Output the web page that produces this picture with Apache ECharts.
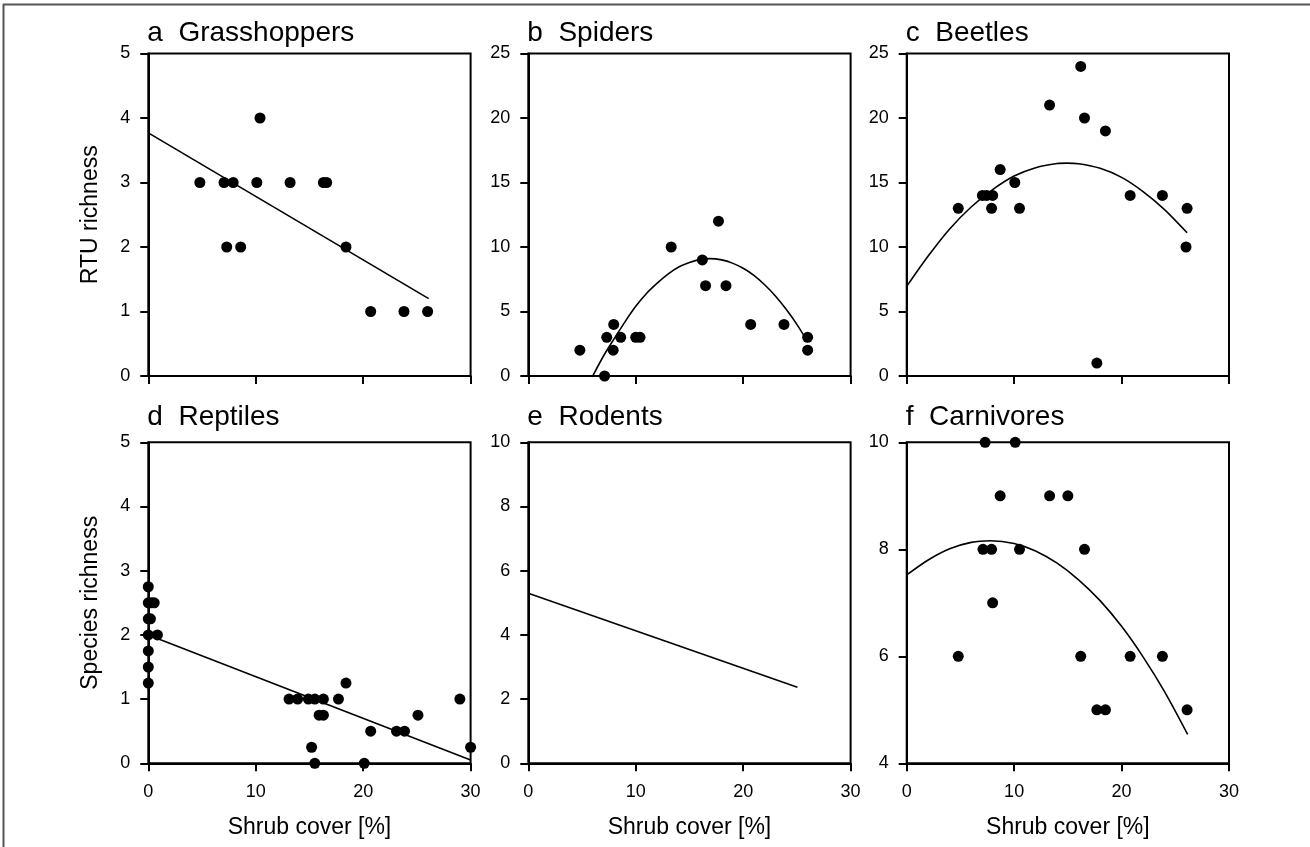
<!DOCTYPE html>
<html>
<head>
<meta charset="utf-8">
<script src="https://cdn.jsdelivr.net/npm/echarts@6/dist/echarts.min.js"></script>
<style>
  html, body { margin: 0; padding: 0; background: #fff; }
  #chart { width: 1310px; height: 847px; }
</style>
</head>
<body>
<div id="chart"></div>
<script>
// panel titles and axis names
const panelTitles = ["a  Grasshoppers", "b  Spiders", "c  Beetles", "d  Reptiles", "e  Rodents", "f  Carnivores"];
const yNames = ["RTU richness", "", "", "Species richness", "", ""];
const xName = "Shrub cover [%]";
const yMins = [0, 0, 0, 0, 0, 4];
const yMaxs = [5, 25, 25, 5, 10, 10];
const yIntervals = [1, 5, 5, 1, 2, 2];

// a Grasshoppers
const grassX = [4.8, 7.05, 7.9, 10.1, 10.4, 13.2, 16.3, 16.6, 7.3, 8.6, 18.4, 20.7, 23.8, 26.0];
const grassY = [3, 3, 3, 3, 4, 3, 3, 3, 2, 2, 2, 1, 1, 1];
const grassFitX = [0, 26.1];
const grassFitY = [3.77, 1.2];

// b Spiders
const spiderX = [4.8, 7.1, 7.3, 7.9, 7.95, 8.6, 10.0, 10.4, 13.3, 16.2, 16.5, 17.7, 18.4, 20.7, 23.8, 26.0, 26.0];
const spiderY = [2, 0, 3, 2, 4, 3, 3, 3, 10, 9, 7, 12, 7, 4, 4, 3, 2];
const spiderFitX = [6.0, 7, 8, 9, 10, 11, 12, 13, 14, 15, 16, 16.9, 18, 19, 20, 21, 22, 23, 24, 25, 26];
const spiderFitY = [0, 1.55, 2.9, 4.2, 5.4, 6.4, 7.2, 7.9, 8.45, 8.8, 9.04, 9.1, 9.0, 8.75, 8.35, 7.8, 7.07, 6.2, 5.17, 4.0, 2.64];

// c Beetles
const beetleX = [4.8, 7.05, 7.45, 8.0, 7.9, 8.7, 10.06, 10.5, 13.3, 16.2, 16.55, 17.7, 18.5, 20.8, 23.8, 26.1, 26.0];
const beetleY = [13, 14, 14, 14, 13, 16, 15, 13, 21, 24, 20, 1, 19, 14, 14, 13, 10];
const beetleFitX = [0, 2, 4, 6, 8, 10, 12, 14, 14.9, 16, 18, 20, 22, 24, 26.1];
const beetleFitY = [6.95, 9.3, 11.4, 13.1, 14.45, 15.5, 16.15, 16.47, 16.5, 16.45, 16.1, 15.4, 14.3, 12.9, 11.1];

// d Reptiles
const reptileX = [0, 0, 0.3, 0.55, 0, 0.2, 0, 0.85, 0, 0, 0,
  13.1, 13.9, 14.9, 15.5, 16.3, 17.7, 18.4, 15.9, 16.3, 15.2, 15.5, 20.1, 20.7, 23.1, 23.85, 25.1, 29.0, 30.0];
const reptileY = [2.75, 2.5, 2.5, 2.5, 2.25, 2.25, 2.0, 2.0, 1.75, 1.5, 1.25,
  1, 1, 1, 1, 1, 1, 1.25, 0.75, 0.75, 0.25, 0, 0, 0.5, 0.5, 0.5, 0.75, 1, 0.25];
const reptileFitX = [0, 30];
const reptileFitY = [2.0, 0.05];

// e Rodents (fit only)
const rodentFitX = [0, 25.05];
const rodentFitY = [5.3, 2.37];

// f Carnivores
const carnX = [4.8, 7.1, 7.3, 7.9, 8.0, 8.7, 10.1, 10.5, 13.3, 15.0, 16.2, 16.55, 17.7, 18.5, 20.8, 23.8, 26.1];
const carnY = [6, 8, 10, 8, 7, 9, 10, 8, 9, 9, 6, 8, 5, 5, 6, 6, 5];
const carnFitX = [0, 2, 4, 6, 7.8, 10, 12, 14, 16, 18, 20, 22, 24, 26.15];
const carnFitY = [7.52, 7.8, 8.01, 8.13, 8.16, 8.11, 7.97, 7.74, 7.43, 7.04, 6.56, 5.99, 5.34, 4.54];

const pointSets = [[grassX, grassY], [spiderX, spiderY], [beetleX, beetleY], [reptileX, reptileY], null, [carnX, carnY]];
const fitSets = [[grassFitX, grassFitY], [spiderFitX, spiderFitY], [beetleFitX, beetleFitY],
  [reptileFitX, reptileFitY], [rodentFitX, rodentFitY], [carnFitX, carnFitY]];

const zip = (xs, ys) => xs.map((x, i) => [x, ys[i]]);
const FONT = "'Liberation Sans', Arial, sans-serif";
const colLefts = [148.3, 528.3, 906.7];
const rowTops = [53.5, 442.3];
const gridW = 322.3;
const gridH = [322.5, 321];

const grids = [], xAxes = [], yAxes = [], titles = [], series = [];
for (let i = 0; i < 6; i++) {
  const row = Math.floor(i / 3), col = i % 3;
  const bottom = row === 1;
  grids.push({
    left: colLefts[col], top: rowTops[row], width: gridW, height: gridH[row],
    show: true, borderColor: "#000", borderWidth: 2, backgroundColor: "transparent",
  });
  xAxes.push({
    gridIndex: i, type: "value", min: 0, max: 30, interval: 10,
    axisLine: { lineStyle: { color: "#000", width: 2 } },
    axisTick: { show: true, inside: false, length: 8, lineStyle: { color: "#000", width: 2 } },
    axisLabel: { show: bottom, color: "#000", fontSize: 18, fontFamily: FONT, margin: 20 },
    splitLine: { show: false },
    name: bottom ? xName : "",
    nameLocation: "middle", nameGap: 53,
    nameTextStyle: { color: "#000", fontSize: 23, fontFamily: FONT },
  });
  yAxes.push({
    gridIndex: i, type: "value", min: yMins[i], max: yMaxs[i], interval: yIntervals[i],
    axisLine: { lineStyle: { color: "#000", width: 2 } },
    axisTick: { show: true, inside: false, length: 8, lineStyle: { color: "#000", width: 2 } },
    axisLabel: { color: "#000", fontSize: 18, fontFamily: FONT, margin: 18 },
    splitLine: { show: false },
    name: yNames[i], nameLocation: "middle", nameGap: 46,
    nameTextStyle: { color: "#000", fontSize: 23, fontFamily: FONT },
  });
  titles.push({
    text: panelTitles[i], left: colLefts[col] - 1, top: row === 0 ? 19 : 403, padding: 0,
    textStyle: { color: "#000", fontSize: 28, fontWeight: "normal", fontFamily: FONT },
  });
  const fit = fitSets[i];
  series.push({
    type: "line", xAxisIndex: i, yAxisIndex: i, data: zip(fit[0], fit[1]),
    smooth: fit[0].length > 2 ? 0.3 : false, showSymbol: false, silent: true,
    lineStyle: { color: "#000", width: 1.6 }, z: 2,
  });
  if (pointSets[i]) {
    series.push({
      type: "scatter", xAxisIndex: i, yAxisIndex: i, data: zip(pointSets[i][0], pointSets[i][1]),
      symbol: "circle", symbolSize: 11, clip: false, silent: true,
      itemStyle: { color: "#000", opacity: 1 }, z: 3,
    });
  }
}

const chart = echarts.init(document.getElementById("chart"), null, { renderer: "canvas" });
chart.setOption({
  animation: false,
  backgroundColor: "#fff",
  title: titles,
  grid: grids,
  xAxis: xAxes,
  yAxis: yAxes,
  series: series,
  graphic: [
    { type: "line", shape: { x1: 3, y1: 4.5, x2: 1310, y2: 4.5 }, style: { stroke: "#555", lineWidth: 2 } },
    { type: "line", shape: { x1: 3.5, y1: 4, x2: 3.5, y2: 847 }, style: { stroke: "#555", lineWidth: 2 } },
  ],
});
</script>
</body>
</html>
